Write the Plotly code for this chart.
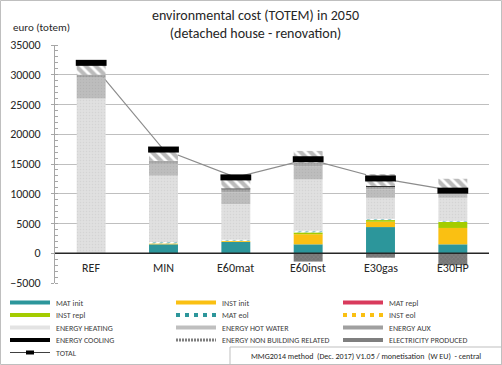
import plotly.graph_objects as go

categories = ["REF", "MIN", "E60mat", "E60inst", "E30gas", "E30HP"]
mat_init = [0, 1500, 1900, 1500, 4400, 1500]
inst_init = [0, 150, 150, 1700, 900, 2750]
mat_repl = [0, 0, 0, 0, 0, 0]
inst_repl = [0, 0, 0, 300, 280, 1000]
mat_eol = [0, 250, 200, 300, 200, 200]
inst_eol = [0, 0, 0, 0, 0, 0]
energy_heating = [26000, 11130, 6000, 8600, 3540, 3870]
energy_hot_water = [3500, 2000, 2000, 2200, 1400, 900]
energy_aux = [500, 500, 500, 600, 450, 300]
energy_cooling = [0, 0, 150, 0, 150, 0]
energy_non_building = [2000, 1900, 1850, 2000, 2000, 2000]
electricity_produced = [0, 0, 0, -1400, -750, -2000]

TEAL, YEL, RED, GRN = "#2C969B", "#FAC012", "#D93A5C", "#A4CC00"

series = [
    ("MAT init", mat_init, dict(color=TEAL), ("rect", TEAL)),
    ("INST init", inst_init, dict(color=YEL), ("rect", YEL)),
    ("MAT repl", mat_repl, dict(color=RED), ("rect", RED)),
    ("INST repl", inst_repl, dict(color=GRN), ("rect", GRN)),
    ("MAT eol", mat_eol, dict(color="#FFFFFF", pattern=dict(shape="/", fgcolor=TEAL, bgcolor="#FFFFFF", size=5, solidity=0.45, fillmode="overlay")), ("dash", TEAL)),
    ("INST eol", inst_eol, dict(color="#FFFFFF", pattern=dict(shape="/", fgcolor=YEL, bgcolor="#FFFFFF", size=5, solidity=0.45, fillmode="overlay")), ("dash", YEL)),
    ("ENERGY HEATING", energy_heating, dict(color="#DCDCDC", pattern=dict(shape=".", fgcolor="#C8C8C8", bgcolor="#E0E0E0", size=3, solidity=0.2, fillmode="overlay")), ("rect", "#E3E3E3")),
    ("ENERGY HOT WATER", energy_hot_water, dict(color="#B8B8B8", pattern=dict(shape=".", fgcolor="#AAAAAA", bgcolor="#BDBDBD", size=3, solidity=0.2, fillmode="overlay")), ("rect", "#BFBFBF")),
    ("ENERGY AUX", energy_aux, dict(color="#A6A6A6", pattern=dict(shape=".", fgcolor="#8C8C8C", bgcolor="#AAAAAA", size=3, solidity=0.3, fillmode="overlay")), ("rect", "#A0A0A0")),
    ("ENERGY COOLING", energy_cooling, dict(color="#000000"), ("rect", "#000000")),
    ("ENERGY NON BUILDING RELATED", energy_non_building, dict(color="#FFFFFF", pattern=dict(shape="\\", fgcolor="#777777", bgcolor="#FFFFFF", size=7, solidity=0.6, fillmode="overlay")), ("dot", "#7F7F7F")),
    ("ELECTRICITY PRODUCED", electricity_produced, dict(color="#7A7A7A", pattern=dict(shape="x", fgcolor="#959595", bgcolor="#777777", size=3, solidity=0.3, fillmode="overlay")), ("rect", "#7F7F7F")),
]

total = [sum(vals[i] for _, vals, _, _ in series) for i in range(len(categories))]

fig = go.Figure()
for name, vals, mk, _ in series:
    fig.add_trace(go.Bar(
        x=categories, y=vals, name=name, yaxis="y2", showlegend=False,
        marker=dict(line=dict(width=0), **mk),
    ))

# TOTAL line drawn under the bars (base subplot), markers on top (overlay subplot)
fig.add_trace(go.Scatter(
    x=categories, y=total, name="TOTAL", mode="lines", yaxis="y", showlegend=False,
    line=dict(color="#8C8C8C", width=1.2),
))
fig.add_trace(go.Scatter(
    x=categories, y=total, name="TOTAL", mode="markers", yaxis="y2", showlegend=False,
    marker=dict(symbol="line-ew", size=22, color="#000000", line=dict(width=6, color="#000000")),
))

W, H = 502, 365
L, R, T, B = 55, 13, 45, 82
pw, ph = W - L - R, H - T - B

def px(x):
    return (x - L) / pw

def py(y):
    return (H - B - y) / ph

font = "Carlito, Lato, Calibri, sans-serif"

shapes = [
    dict(type="line", xref="paper", yref="y2", x0=0, x1=1, y0=0, y1=0,
         line=dict(color="#262626", width=1.5), layer="above"),
    dict(type="rect", xref="paper", yref="paper", x0=px(0.5), x1=px(501.5), y0=py(364.5), y1=py(0.5),
         line=dict(color="#BFBFBF", width=1), layer="below"),
    dict(type="rect", xref="paper", yref="paper", x0=px(230), x1=px(501.5), y0=py(364.5), y1=py(347),
         line=dict(color="#BFBFBF", width=1), layer="below"),
]
annotations = [
    dict(text="environmental cost (TOTEM) in 2050<br>(detached house - renovation)",
         x=px(255), y=py(5), xref="paper", yref="paper", xanchor="center", yanchor="top",
         showarrow=False, font=dict(size=14, color="#262626")),
    dict(text="euro (totem)", x=px(11), y=py(27), xref="paper", yref="paper",
         xanchor="left", yanchor="middle", showarrow=False, font=dict(size=11, color="#262626")),
    dict(text="MMG2014 method  (Dec. 2017) V1.05 / monetisation  (W EU)  - central",
         x=px(366), y=py(356), xref="paper", yref="paper", xanchor="center", yanchor="middle",
         showarrow=False, font=dict(size=8, color="#262626")),
]

# category labels just below the zero line (Excel "next to axis")
for c in categories:
    annotations.append(dict(text=c, x=c, y=0, xref="x", yref="y", yanchor="top", yshift=-6,
                            showarrow=False, font=dict(size=12, color="#262626")))

col_x = [10, 176, 343]
row_y0, row_dy = 302.5, 12.5
legend_items = [(name, key) for name, _, _, key in series] + [("TOTAL", ("total", "#000000"))]
for i, (name, (kind, color)) in enumerate(legend_items):
    cx = col_x[i % 3]
    cy = row_y0 + row_dy * (i // 3)
    if kind == "rect":
        shapes.append(dict(type="rect", xref="paper", yref="paper", x0=px(cx), x1=px(cx + 40),
                           y0=py(cy + 2), y1=py(cy - 2), fillcolor=color, line=dict(width=0)))
    elif kind == "dash":
        shapes.append(dict(type="line", xref="paper", yref="paper", x0=px(cx), x1=px(cx + 40),
                           y0=py(cy), y1=py(cy), line=dict(color=color, width=4, dash="4px,5px")))
    elif kind == "dot":
        shapes.append(dict(type="line", xref="paper", yref="paper", x0=px(cx), x1=px(cx + 40),
                           y0=py(cy), y1=py(cy), line=dict(color=color, width=3, dash="2px,1px")))
    else:
        shapes.append(dict(type="line", xref="paper", yref="paper", x0=px(cx), x1=px(cx + 40),
                           y0=py(cy), y1=py(cy), line=dict(color="#404040", width=1)))
        shapes.append(dict(type="rect", xref="paper", yref="paper", x0=px(cx + 16), x1=px(cx + 24),
                           y0=py(cy + 2), y1=py(cy - 2), fillcolor="#000000", line=dict(width=0)))
    annotations.append(dict(text=name, x=px(cx + 44), y=py(cy), xref="paper", yref="paper",
                            xanchor="left", yanchor="middle", showarrow=False,
                            font=dict(size=8, color="#404040")))

fig.update_layout(
    width=W, height=H, autosize=False,
    margin=dict(l=L, r=R, t=T, b=B, pad=0, autoexpand=False),
    paper_bgcolor="white", plot_bgcolor="white",
    barmode="relative", bargap=0.6,
    font=dict(family=font, size=11, color="#404040"),
    xaxis=dict(showgrid=False, ticks="", showline=False, showticklabels=False, automargin=False),
    yaxis=dict(range=[-5000, 35000], dtick=5000, tickformat="d", showgrid=True, gridcolor="#BFBFBF", gridwidth=1,
               zeroline=False, showline=True, linecolor="#A6A6A6", linewidth=1, automargin=False,
               ticks="outside", ticklen=3, tickcolor="#A6A6A6",
               minor=dict(dtick=1000, ticks="inside", ticklen=3, tickcolor="#A6A6A6", showgrid=False),
               tickfont=dict(size=12, color="#262626"), ticklabelstandoff=8),
    yaxis2=dict(range=[-5000, 35000], overlaying="y", visible=False, showgrid=False, zeroline=False),
    showlegend=False,
    hovermode=False,
    shapes=shapes,
    annotations=annotations,
)

fig.write_html("out.html", config={"displayModeBar": False, "staticPlot": True},
               post_script="document.body.style.margin='0';document.body.style.overflow='hidden';")
